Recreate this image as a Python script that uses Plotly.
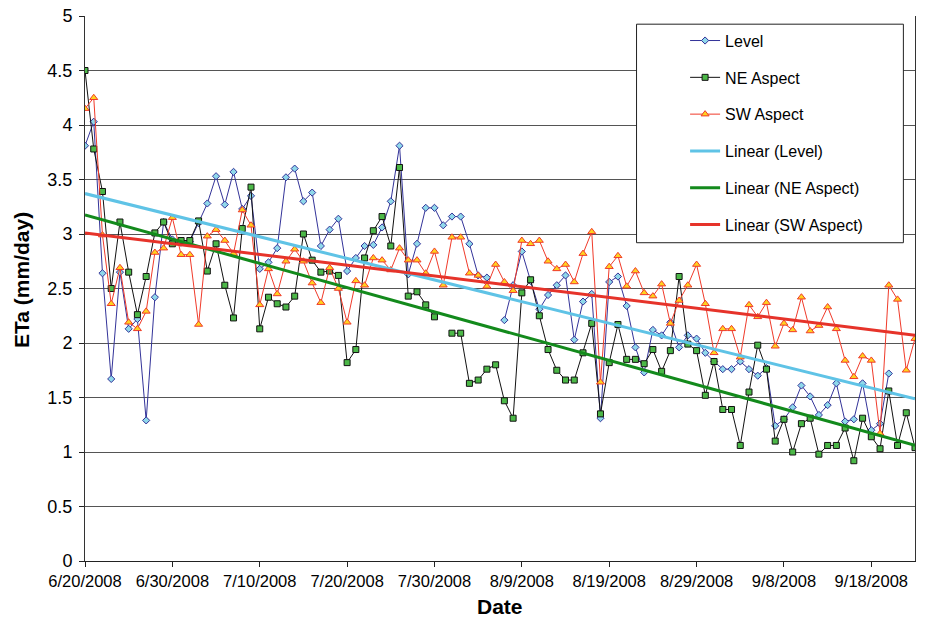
import numpy as np
import pandas as pd
import plotly.graph_objects as go

start_date = "2008-06-20"
n_days = 96
dates = pd.date_range(start_date, periods=n_days, freq="D")

level = [3.81, 4.03, 2.64, 1.67, 2.65, 2.13, 2.22, 1.29, 2.42, 3.11,
         2.95, 2.92, 2.93, 3.10, 3.28, 3.53, 3.27, 3.57, 3.23, 3.35,
         2.68, 2.74, 2.87, 3.52, 3.60, 3.30, 3.38, 2.89, 3.04, 3.14,
         2.66, 2.78, 2.89, 2.90, 3.06, 3.30, 3.81, 2.63, 2.91, 3.24,
         3.24, 3.08, 3.16, 3.16, 2.91, 2.62, 2.60, None, 2.21, 2.53,
         2.84, 2.57, 2.31, 2.44, 2.53, 2.62, 2.03, 2.38, 2.45, 1.31,
         2.56, 2.61, 2.34, 1.96, 1.73, 2.12, 2.07, 2.19, 1.96, 2.07,
         2.04, 1.91, 1.83, 1.76, 1.76, 1.83, 1.76, 1.70, 1.77, 1.24,
         1.30, 1.41, 1.61, 1.51, 1.34, 1.43, 1.63, 1.28, 1.30, 1.63,
         1.20, 1.26, 1.72, None, None, None]

ne_aspect = [4.50, 3.78, 3.39, 2.50, 3.11, 2.65, 2.26, 2.61, 3.01, 3.11,
             2.91, 2.94, 2.94, 3.12, 2.66, 2.91, 2.53, 2.23, 3.05, 3.43,
             2.13, 2.42, 2.36, 2.33, 2.43, 3.00, 2.76, 2.65, 2.66, 2.62,
             1.82, 1.94, 2.78, 3.03, 3.16, 2.89, 3.61, 2.43, 2.47, 2.35,
             2.24, None, 2.09, 2.09, 1.63, 1.66, 1.76, 1.80, 1.47, 1.31,
             2.46, 2.58, 2.25, 1.94, 1.75, 1.66, 1.66, 1.91, 2.18, 1.35,
             1.82, 2.17, 1.85, 1.85, 1.81, 1.94, 1.74, 1.93, 2.61, 1.99,
             1.93, 1.52, 1.83, 1.39, 1.39, 1.06, 1.55, 1.98, 1.76, 1.10,
             1.30, 1.00, 1.26, 1.31, 0.98, 1.06, 1.06, 1.22, 0.92, 1.31,
             1.14, 1.03, 1.56, 1.06, 1.36, 1.04]

sw_aspect = [4.15, 4.25, 2.99, 2.36, 2.69, 2.19, 2.13, 2.29, 2.83, 2.87,
             3.15, 2.81, 2.81, 2.17, 2.98, 3.04, 2.94, 2.82, 3.22, 3.08,
             2.35, 2.68, 2.45, 2.75, 2.86, 2.75, 2.55, 2.37, 2.69, 2.50,
             2.19, 2.57, 2.53, 2.78, 2.76, 2.67, 2.87, 2.76, 2.76, 2.64,
             2.84, 2.53, 2.97, 2.97, 2.64, 2.62, 2.52, 2.72, 2.56, 2.48,
             2.94, 2.91, 2.94, 2.75, 2.68, 2.72, 2.56, 2.82, 3.02, 1.64,
             2.70, 2.80, 2.52, 2.66, 2.46, 2.43, 2.54, 2.18, 2.39, 2.53,
             2.72, 2.36, 1.91, 2.13, 2.13, 1.87, 2.35, 2.24, 2.37, 1.97,
             2.18, 2.12, 2.42, 2.11, 2.16, 2.33, 2.13, 1.84, 1.69, 1.88,
             1.84, 1.17, 2.53, 2.40, 1.75, 2.04]

series_names = ["Level", "NE Aspect", "SW Aspect"]
trend_names = ["Linear (Level)", "Linear (NE Aspect)", "Linear (SW Aspect)"]
x_tick_start = "2008-06-20"
x_end = "2008-09-23"

FONT = "Liberation Sans, Arial, sans-serif"


def linear_fit(values):
    x = np.arange(len(values), dtype=float)
    y = np.array([np.nan if v is None else v for v in values], dtype=float)
    m = ~np.isnan(y)
    slope, intercept = np.polyfit(x[m], y[m], 1)
    xe = np.array([0.0, len(values) - 1.0])
    return [dates[0], dates[-1]], list(intercept + slope * xe)


fig = go.Figure()

styles = [
    dict(line=dict(color="#333399", width=1),
         marker=dict(symbol="diamond", size=5.5, color="#8fd8ea",
                     line=dict(color="#333399", width=1))),
    dict(line=dict(color="#111111", width=1),
         marker=dict(symbol="square", size=6, color="#4cb848",
                     line=dict(color="#111111", width=1))),
    dict(line=dict(color="#f03a2a", width=1),
         marker=dict(symbol="triangle-up", size=7, color="#ffd21f",
                     line=dict(color="#f03a2a", width=1))),
]
for i, (name, vals) in enumerate(zip(series_names, [level, ne_aspect, sw_aspect])):
    fig.add_trace(go.Scatter(x=dates, y=vals, name=name, mode="lines+markers",
                             connectgaps=False, legendgroup=name,
                             **styles[i]))

trend_colors = ["#5fc3e6", "#138a1c", "#e6332a"]
for name, vals, col in zip(trend_names, [level, ne_aspect, sw_aspect], trend_colors):
    tx, ty = linear_fit(vals)
    fig.add_trace(go.Scatter(x=tx, y=ty, name=name, mode="lines",
                             legendgroup=name,
                             line=dict(color=col, width=3)))

fig.update_layout(
    width=926, height=619,
    margin=dict(l=85, r=11, t=16, b=58, autoexpand=False),
    paper_bgcolor="white", plot_bgcolor="white",
    font=dict(family=FONT, color="black"),
    showlegend=True,
    legend=dict(x=0.723, y=0.986, xanchor="left", yanchor="top",
                bgcolor="rgba(0,0,0,0)", borderwidth=0,
                font=dict(size=16, family=FONT, color="black"),
                tracegroupgap=13, itemwidth=30),
    xaxis=dict(type="date", range=[x_tick_start, x_end], automargin=False,
               tick0=x_tick_start, dtick=10 * 86400000,
               tickformat="%-m/%-d/%Y", ticks="outside", ticklen=5,
               tickcolor="#222222", showline=True, linecolor="#222222",
               linewidth=1, showgrid=False, zeroline=False,
               tickfont=dict(size=16.5, family=FONT, color="black")),
    yaxis=dict(range=[0, 5], dtick=0.5, ticks="outside", ticklen=5,
               automargin=False, ticklabelstandoff=3,
               ticklabeloverflow="allow",
               tickcolor="#222222", showline=True, linecolor="#333333",
               linewidth=1, mirror=True, showgrid=True, gridcolor="#555555",
               gridwidth=1, zeroline=False,
               tickfont=dict(size=18, family=FONT, color="black")),
    shapes=[dict(type="rect", xref="paper", yref="paper",
                 x0=0.6645, x1=0.986, y0=0.584, y1=0.985,
                 fillcolor="white", line=dict(color="#222222", width=1),
                 layer="above")],
    annotations=[
        dict(text="<b>ETa (mm/day)</b>", xref="paper", yref="paper",
             x=-0.0759, y=0.5156, xanchor="center", yanchor="middle",
             textangle=-90, showarrow=False,
             font=dict(size=21, family=FONT, color="black")),
        dict(text="<b>Date</b>", xref="paper", yref="paper",
             x=0.5, y=-0.0844, xanchor="center", yanchor="middle",
             showarrow=False, font=dict(size=21, family=FONT, color="black")),
    ],
)

# Remove the browser's default 8px body margin so the figure sits at (0, 0).
fig.write_html("out.html",
               config={"displayModeBar": False},
               post_script="document.body.style.margin='0';"
                           "document.body.style.padding='0';")
